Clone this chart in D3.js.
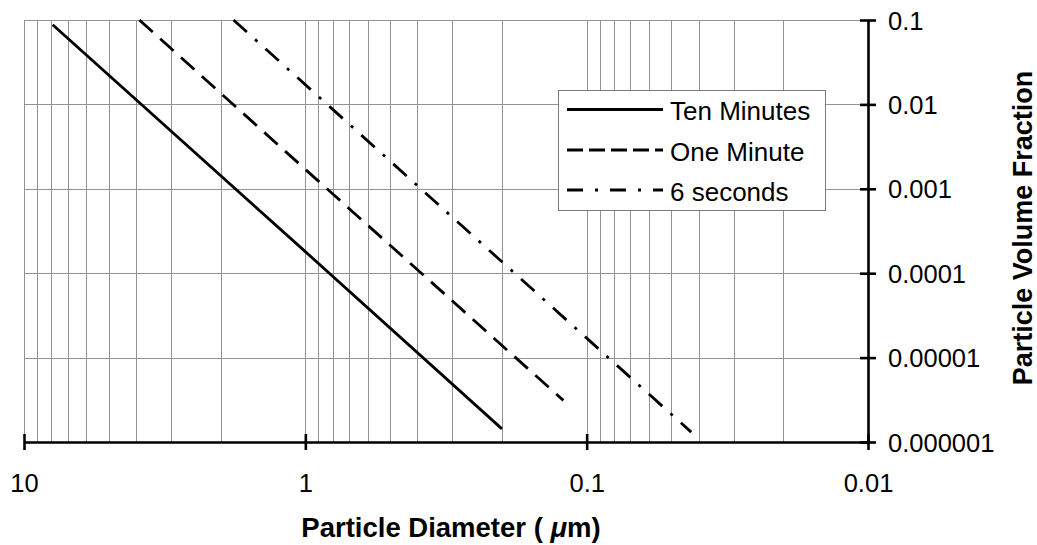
<!DOCTYPE html>
<html>
<head>
<meta charset="utf-8">
<script src="https://cdn.jsdelivr.net/npm/d3@7"></script>
<style>
  html, body { margin: 0; padding: 0; background: #fff; }
  svg { display: block; }
  text { font-family: "Liberation Sans", Arial, Helvetica, sans-serif; fill: #000; }
</style>
</head>
<body>
<svg id="chart" width="1037" height="545"></svg>
<script>
// Particle size distributions: diameter (µm) vs volume fraction, three settling times
const seriesNames = ["Ten Minutes", "One Minute", "6 seconds"];

const diamTenMinutes = [7.91, 1.0, 0.2];
const fracTenMinutes = [0.0877, 1.8e-4, 1.43e-6];

const diamOneMinute = [3.89, 1.0, 0.121];
const fracOneMinute = [0.1, 1.7e-3, 3.11e-6];

const diamSixSeconds = [1.80, 0.1, 0.0425];
const fracSixSeconds = [0.1, 1.7e-5, 1.31e-6];

const xTickValues = [10, 1, 0.1, 0.01];
const xTickLabels = ["10", "1", "0.1", "0.01"];
const yTickValues = [0.1, 0.01, 0.001, 0.0001, 0.00001, 0.000001];
const yTickLabels = ["0.1", "0.01", "0.001", "0.0001", "0.00001", "0.000001"];

const svg = d3.select("#chart");
const plotLeft = 24, plotRight = 868, plotTop = 20, plotBottom = 442;

const x = d3.scaleLog().domain([10, 0.01]).range([plotLeft, plotRight]);
const y = d3.scaleLog().domain([1e-6, 0.1]).range([plotBottom, plotTop]);

// grid: every 1..9 multiple on x, decades only on y
const grid = svg.append("g").attr("stroke", "#939393").attr("stroke-width", 1);
grid.selectAll("line.v").data(x.ticks()).join("line")
  .attr("class", "v")
  .attr("x1", d => Math.round(x(d)) + 0.5).attr("x2", d => Math.round(x(d)) + 0.5)
  .attr("y1", plotTop).attr("y2", plotBottom);
grid.selectAll("line.h").data(yTickValues).join("line")
  .attr("class", "h")
  .attr("x1", plotLeft).attr("x2", plotRight)
  .attr("y1", d => Math.round(y(d)) + 0.5).attr("y2", d => Math.round(y(d)) + 0.5);

// series
const series = [
  { name: seriesNames[0], d: diamTenMinutes, v: fracTenMinutes, dash: null, legendDash: null },
  { name: seriesNames[1], d: diamOneMinute, v: fracOneMinute, dash: "18,10", legendDash: "16,6" },
  { name: seriesNames[2], d: diamSixSeconds, v: fracSixSeconds, dash: "18,11,3,11", legendDash: "16,12,3,12" }
];

const line = d3.line().x(p => x(p[0])).y(p => y(p[1]));
svg.append("g").selectAll("path").data(series).join("path")
  .attr("d", s => line(s.d.map((dd, i) => [dd, s.v[i]])))
  .attr("fill", "none")
  .attr("stroke", "#000")
  .attr("stroke-width", 2.8)
  .attr("stroke-dasharray", s => s.dash);

// x axis (bottom)
const xAxis = d3.axisBottom(x)
  .tickValues(xTickValues)
  .tickFormat((d, i) => xTickLabels[i])
  .tickSizeOuter(0)
  .tickPadding(0);
const gx = svg.append("g").attr("transform", `translate(0,${plotBottom})`).call(xAxis);
gx.select(".domain").attr("stroke", "#000").attr("stroke-width", 2.6);
gx.selectAll(".tick line").attr("y1", -8).attr("y2", 8).attr("stroke", "#000").attr("stroke-width", 2.6);
gx.selectAll(".tick text").attr("y", 50).attr("dy", null).attr("font-size", 25.5)
  .style("font-family", "'Liberation Sans', Arial, sans-serif");

// y axis (right)
const yAxis = d3.axisRight(y)
  .tickValues(yTickValues)
  .tickFormat((d, i) => yTickLabels[i])
  .tickSizeOuter(0);
const gy = svg.append("g").attr("transform", `translate(${plotRight},0)`).call(yAxis);
gy.select(".domain").attr("stroke", "#000").attr("stroke-width", 2.6);
gy.selectAll(".tick line").attr("x1", -8).attr("x2", 8).attr("stroke", "#000").attr("stroke-width", 2.6);
gy.selectAll(".tick text").attr("x", 20).attr("dy", "0.36em").attr("font-size", 25.5)
  .style("font-family", "'Liberation Sans', Arial, sans-serif");

// axis titles
const xt = svg.append("text")
  .attr("x", 451).attr("y", 537)
  .attr("text-anchor", "middle")
  .attr("font-size", 27.5).attr("font-weight", "bold");
xt.append("tspan").text("Particle Diameter ( ");
xt.append("tspan").attr("font-style", "italic").text("\u03bc");
xt.append("tspan").text("m)");

svg.append("text")
  .attr("transform", "translate(1032,228) rotate(-90)")
  .attr("text-anchor", "middle")
  .attr("font-size", 27).attr("font-weight", "bold")
  .text("Particle Volume Fraction");

// legend
const lg = svg.append("g");
lg.append("rect")
  .attr("x", 558.5).attr("y", 90.5).attr("width", 267).attr("height", 120)
  .attr("fill", "#fff").attr("stroke", "#7a7a7a").attr("stroke-width", 1);
const rowY = [109.5, 150, 190];
const rows = lg.selectAll("g.row").data(series).join("g").attr("class", "row")
  .attr("transform", (s, i) => `translate(0,${rowY[i]})`);
rows.append("line")
  .attr("x1", 567).attr("x2", 663).attr("y1", 0).attr("y2", 0)
  .attr("stroke", "#000").attr("stroke-width", 2.8)
  .attr("stroke-dasharray", s => s.legendDash);
rows.append("text")
  .attr("x", 670).attr("y", 10.5)
  .attr("font-size", 26)
  .text(s => s.name);
</script>
</body>
</html>
